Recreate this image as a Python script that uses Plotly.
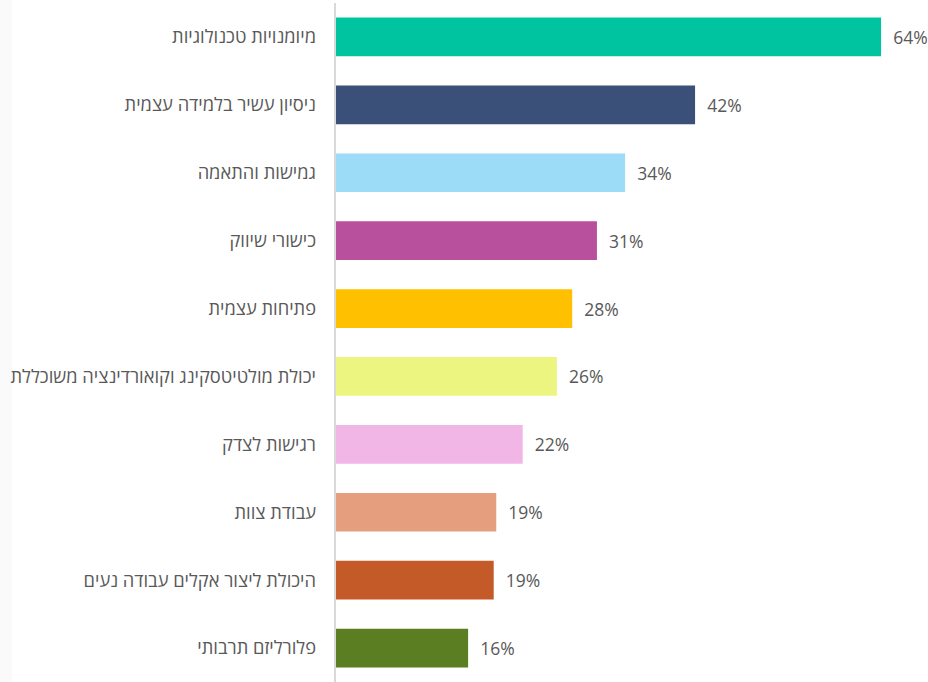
import plotly.graph_objects as go

categories = [
    "מיומנויות טכנולוגיות",
    "ניסיון עשיר בלמידה עצמית",
    "גמישות והתאמה",
    "כישורי שיווק",
    "פתיחות עצמית",
    "יכולת מולטיטסקינג וקואורדינציה משוכללת",
    "רגישות לצדק",
    "עבודת צוות",
    "היכולת ליצור אקלים עבודה נעים",
    "פלורליזם תרבותי",
]
values = [64.0, 42.2, 34.0, 30.7, 27.8, 26.0, 22.0, 18.9, 18.6, 15.6]
labels = ["64%", "42%", "34%", "31%", "28%", "26%", "22%", "19%", "19%", "16%"]
colors = ["#00c3a0", "#3a5078", "#9cdcf6", "#b8509e", "#ffc000",
          "#ebf57f", "#f2b6e6", "#e59e7e", "#c45a28", "#5b7e23"]

fig = go.Figure(go.Bar(
    y=categories, x=values, orientation="h",
    marker=dict(color=colors, line=dict(width=0)),
    width=0.57,
    text=labels, texttemplate="  %{text}", textposition="outside",
    textfont=dict(family="Open Sans, sans-serif", size=17.5, color="#595959"),
    cliponaxis=False,
))

fig.update_layout(
    width=928, height=682,
    margin=dict(l=335, r=0, t=3, b=0),
    paper_bgcolor="white", plot_bgcolor="white",
    showlegend=False,
    xaxis=dict(range=[0, 69.5], visible=False),
    yaxis=dict(autorange="reversed", showgrid=False, zeroline=False,
               showline=False, ticks="", ticklabelstandoff=18,
               tickfont=dict(family="Open Sans, Noto Sans, sans-serif", size=18.3, color="#595959")),
    shapes=[
        dict(type="rect", xref="paper", yref="paper", x0=-335/593, x1=-323/593,
             y0=-0.01, y1=1.01, fillcolor="#fafafa", line=dict(width=0), layer="below"),
        dict(type="line", xref="paper", yref="paper", x0=0, x1=0, y0=-0.01, y1=1.0,
             line=dict(color="#d9d9d9", width=2)),
    ],
    bargap=0.43,
)

fig.write_html("out.html", config={"displayModeBar": False},
               post_script="document.body.style.margin='0';document.body.style.padding='0';")
